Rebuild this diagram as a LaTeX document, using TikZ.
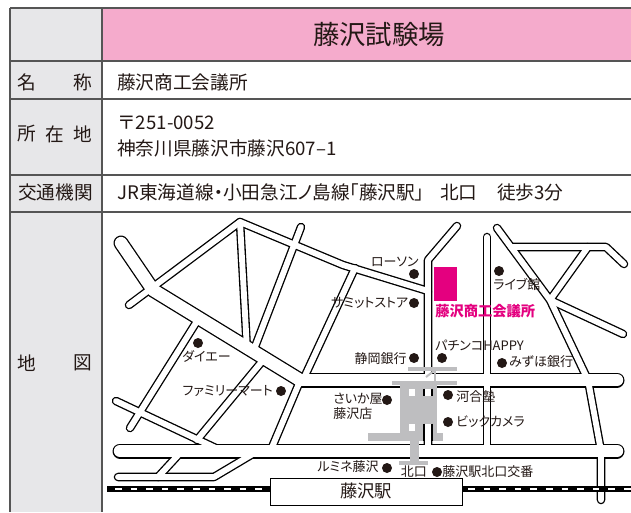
\documentclass[tikz,border=0pt]{standalone}
\usepackage{fontspec}
\setmainfont{Noto Sans CJK JP}
\newfontfamily\jpp{Noto Sans CJK JP}[RawFeature=+palt]
\definecolor{headpink}{RGB}{245,171,204}
\definecolor{colgray}{RGB}{231,231,233}
\definecolor{tline}{RGB}{85,85,85}
\definecolor{mag}{RGB}{228,0,127}
\definecolor{stgray}{RGB}{190,190,192}
\definecolor{ink}{RGB}{35,24,21}
\tikzset{
 tabline/.style={draw=tline, line width=1pt},
 wideblack/.style={draw=black, line width=11.25pt, line cap=round, line join=round},
 widewhite/.style={draw=white, line width=9.3pt, line cap=round, line join=round},
 narrowblack/.style={draw=black, line width=6.4pt, line cap=round, line join=round},
 narrowwhite/.style={draw=white, line width=4.4pt, line cap=round, line join=round},
 tabtext/.style={inner sep=0pt, text=ink, font=\fontsize{14}{16}\selectfont},
 tabtextp/.style={inner sep=0pt, text=ink, font=\jpp\fontsize{14}{16}\selectfont},
 headtext/.style={inner sep=0pt, text=ink, font=\fontsize{19.8}{22}\selectfont},
 lbl/.style={inner sep=0pt, text=ink, font=\jpp\fontsize{9.75}{11}\selectfont},
 pinklbl/.style={inner sep=0pt, text=mag, font=\jpp\bfseries\fontsize{10.7}{12}\selectfont},
 dotmark/.style={fill=ink},
 stbar/.style={fill=stgray},
}
\newcommand\myWideRoads[1]{%
 \draw[#1] (121,243) -- (153,290) -- (300,380);
 \draw[#1] (300,380) -- (617,380);
 \draw[#1] (120,451) -- (617,451);
}
\newcommand\myNarrowRoads[1]{%
 \draw[#1] (129,305) -- (240,222) -- (343,265) -- (428,291);
 \draw[#1] (240,222) -- (247,350);
 \draw[#1] (301,227) -- (253,352);
 \draw[#1] (355,268) -- (303,380);
 \draw[#1] (457,226) -- (428,260) -- (428,452);
 \draw[#1] (487,237) -- (487,452);
 \draw[#1] (497,228) -- (550,300) -- (588,380) -- (601,451) -- (601,500);
 \draw[#1] (511,247) -- (606,247) -- (624,264);
 \draw[#1] (588,247) -- (550,300) -- (623,334);
 \draw[#1] (199,318) -- (130,428);
 \draw[#1] (264,359) -- (197,440);
 \draw[#1] (300,381) -- (270,452);
 \draw[#1] (116,401) -- (222,451);
 \draw[#1] (118,477) -- (214,477) -- (256,452);
 \draw[#1] (158,477) -- (181,452);
}
\begin{document}
\begin{tikzpicture}[x=0.75pt,y=-0.75pt]
\useasboundingbox (0,0) rectangle (631,512);
\fill[white] (0,0) rectangle (631,512);
% table backgrounds
\fill[colgray] (10,8) rectangle (102,512);
\fill[headpink] (102,8) rectangle (631,61);
% table lines
\draw[tabline] (10,8) -- (631,8);
\draw[tabline] (10,61) -- (631,61);
\draw[tabline] (10,99) -- (631,99);
\draw[tabline] (10,175) -- (631,175);
\draw[tabline] (10,212) -- (631,212);
\draw[tabline] (10,8) -- (10,512);
\draw[tabline] (102,8) -- (102,512);
% table texts
\node[headtext] (title) at (379,35) {藤沢試験場};
\node[tabtext] (l1a) at (26.5,82) {名};
\node[tabtext] (l1b) at (82.5,82) {称};
\node[tabtext] (l2a) at (26.5,134) {所};
\node[tabtext] (l2b) at (55,134) {在};
\node[tabtext] (l2c) at (82.5,134) {地};
\node[tabtext] (l3) at (55.5,192) {交通機関};
\node[tabtext] (l4a) at (26.5,363) {地};
\node[tabtext] (l4b) at (82.5,363) {図};
\node[tabtext, anchor=west] (v1) at (117,82) {藤沢商工会議所};
\node[tabtext, anchor=west] (v2a) at (117,122.5) {〒251-0052};
\node[tabtextp, anchor=west] (v2b) at (117,148) {神奈川県藤沢市藤沢607–1};
\node[tabtextp, anchor=west] (v3a) at (117,192) {JR東海道線・小田急江ノ島線「藤沢駅」};
\node[tabtext, anchor=west] (v3b) at (440,192) {北口};
\node[tabtext, anchor=west] (v3c) at (497,192) {徒歩3分};
% roads
\myWideRoads{wideblack}
\myNarrowRoads{narrowblack}
\myWideRoads{widewhite}
\myNarrowRoads{narrowwhite}
% station deck (gray)
\fill[stbar] (408,367) rectangle (457,371);
\fill[stbar] (392,381) rectangle (457,385);
\fill[stbar] (400,381) rectangle (437,433);
\fill[stbar] (368,432.5) rectangle (443,441);
\fill[stbar] (410,441) rectangle (419,462);
\fill[stbar] (399,461) rectangle (428,464.5);
\draw[stgray, line width=1.5pt] (426,377) -- (435,370);
\draw[stgray, line width=1.5pt] (435,368) -- (435,381);
\fill[white] (409,388.5) rectangle (415,395.5);
\fill[white] (408.5,423.5) rectangle (415,430.5);
\fill[white] (424,388.5) rectangle (432,395.5);
\fill[white] (424,423.5) rectangle (432,441);
\draw[black, line width=1pt] (424,388.5) -- (424,395.5) (432,388.5) -- (432,395.5);
\draw[black, line width=1pt] (424,423.5) -- (424,441) (432,423.5) -- (432,441);
% railway
\draw[black, line width=4pt] (107,489) -- (270,489);
\draw[white, line width=1.6pt, dash pattern=on 5pt off 6.7pt] (115,489) -- (266,489);
\draw[black, line width=4pt] (462,489) -- (631,489);
\draw[white, line width=1.6pt, dash pattern=on 5pt off 6.7pt] (468,489) -- (631,489);
% station box
\node[draw=black, line width=1pt, fill=white, minimum width=144pt, minimum height=20pt, inner sep=0pt, anchor=north west] (stbox) at (270,478) {};
\node[inner sep=0pt, text=ink, font=\fontsize{13}{15}\selectfont] (stname) at (366,491) {藤沢駅};
% target building
\fill[mag] (434,267) rectangle (457,301);
\node[pinklbl, anchor=west] (target) at (435,311.5) {藤沢商工会議所};
% landmarks
\fill[dotmark] (414,274) circle[radius=5];
\node[lbl, anchor=east] (lawson) at (419,262) {ローソン};
\fill[dotmark] (414,303) circle[radius=5];
\node[lbl, anchor=east] (summit) at (408.5,303) {サミットストア};
\fill[dotmark] (414,358) circle[radius=5];
\node[lbl, anchor=east] (shizu) at (407,359) {静岡銀行};
\fill[dotmark] (442,358) circle[radius=5];
\node[lbl, anchor=west] (pachi) at (435,345) {パチンコHAPPY};
\fill[dotmark] (499,271) circle[radius=5];
\node[lbl, anchor=west] (live) at (493,284) {ライブ館};
\fill[dotmark] (502,363) circle[radius=5];
\node[lbl, anchor=west] (mizuho) at (509,362) {みずほ銀行};
\fill[dotmark] (198,343) circle[radius=5];
\node[lbl, anchor=west] (daiei) at (182,356) {ダイエー};
\fill[dotmark] (281,391) circle[radius=5];
\node[lbl, anchor=east] (fami) at (273,391) {ファミリーマート};
\fill[dotmark] (387,400) circle[radius=5];
\node[lbl, anchor=west] (saika) at (333,399) {さいか屋};
\node[lbl, anchor=west] (saikab) at (333,414) {藤沢店};
\fill[dotmark] (448,395) circle[radius=5];
\node[lbl, anchor=west] (kawai) at (456,396.5) {河合塾};
\fill[dotmark] (448,422) circle[radius=5];
\node[lbl, anchor=west] (bic) at (456,421.5) {ビックカメラ};
\fill[dotmark] (387,468) circle[radius=5];
\node[lbl, anchor=east] (lumine) at (379,467) {ルミネ藤沢};
\node[lbl, anchor=west, fill=white, inner sep=0.5pt] (kita) at (400,472) {北口};
\fill[dotmark] (437,472) circle[radius=5];
\node[lbl, anchor=west] (koban) at (442,472) {藤沢駅北口交番};
\end{tikzpicture}
\end{document}
